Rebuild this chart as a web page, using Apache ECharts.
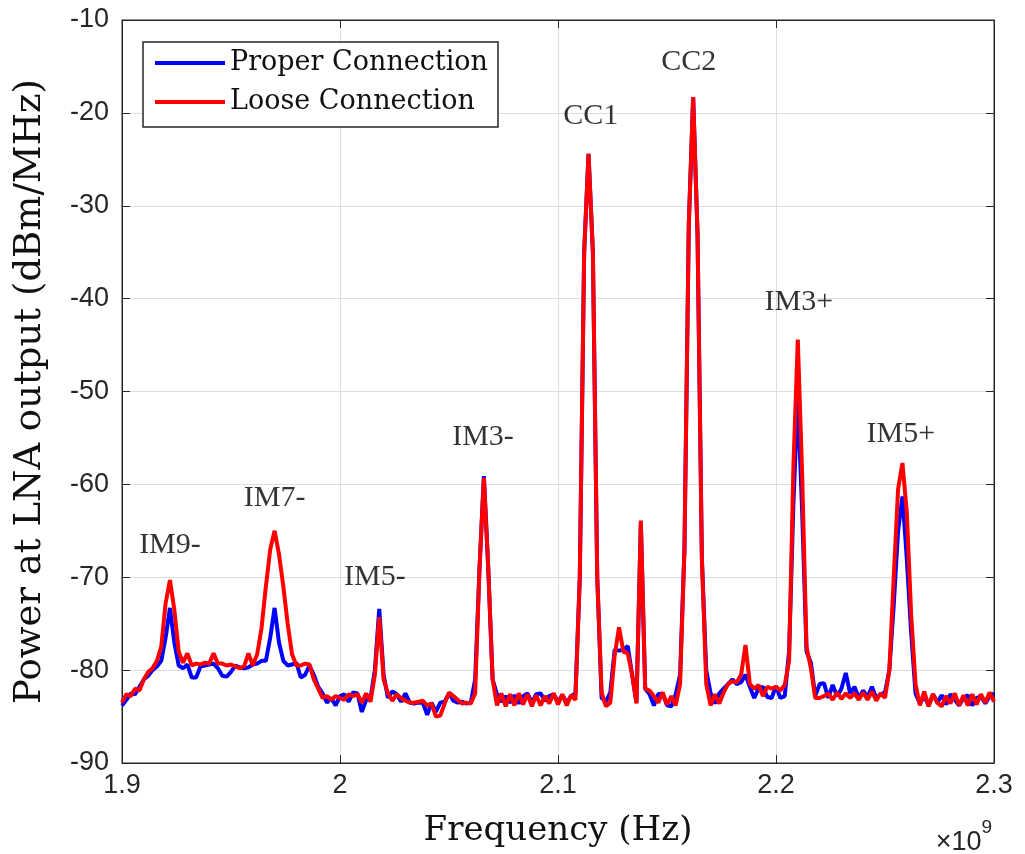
<!DOCTYPE html>
<html>
<head>
<meta charset="utf-8">
<script src="https://cdn.jsdelivr.net/npm/echarts@6/dist/echarts.min.js"></script>
<style>html,body{margin:0;padding:0;background:#fff}#c{width:1025px;height:854px}</style>
</head>
<body>
<div id="c"></div>
<script>
// Frequency sampling grid (GHz, ×10^9 Hz)
const freqStart = 1.9;
const freqStep = 0.002;
const xTicks = [1.9, 2.0, 2.1, 2.2, 2.3];
const yTicks = [-90, -80, -70, -60, -50, -40, -30, -20, -10];

const proper = [
-83.8,-83.2,-82.5,-82.6,-81.8,-81.0,-80.6,-80.0,-79.6,-79.0,
-76.5,-73.3,-77.0,-79.5,-79.8,-79.4,-80.8,-80.8,-79.6,-79.5,
-79.4,-79.3,-79.8,-80.6,-80.7,-80.2,-79.5,-79.7,-79.8,-79.7,
-79.4,-79.3,-79.0,-79.0,-76.5,-73.3,-77.0,-79.0,-79.5,-79.4,
-79.2,-80.8,-80.5,-79.5,-80.5,-81.8,-82.5,-83.5,-83.0,-83.8,
-82.8,-82.6,-83.4,-82.4,-82.5,-84.5,-83.2,-83.0,-80.0,-73.4,
-80.5,-83.0,-82.3,-82.6,-83.4,-82.5,-83.5,-83.6,-83.5,-83.5,
-84.8,-83.5,-84.5,-83.5,-83.4,-82.5,-83.3,-83.5,-83.4,-83.6,
-83.5,-81.0,-69.0,-59.1,-69.0,-81.0,-82.6,-83.4,-82.8,-83.5,
-82.7,-83.6,-82.8,-82.5,-83.5,-82.6,-82.5,-83.3,-82.8,-82.6,
-83.4,-82.7,-83.5,-82.8,-82.5,-70.0,-35.0,-24.4,-35.0,-70.0,
-83.0,-83.4,-82.4,-77.8,-77.9,-77.8,-77.4,-80.5,-83.5,-64.2,
-82.0,-82.6,-83.8,-82.6,-82.5,-83.8,-83.9,-82.6,-80.5,-67.0,
-32.0,-18.3,-33.0,-68.0,-80.0,-82.5,-83.6,-82.5,-82.0,-81.5,
-81.0,-81.5,-81.3,-80.5,-81.8,-83.0,-82.0,-81.8,-82.9,-83.0,
-81.7,-83.0,-82.8,-78.0,-62.0,-50.5,-63.0,-78.0,-79.2,-82.8,
-81.5,-81.4,-83.0,-81.6,-82.8,-82.0,-80.3,-82.5,-81.8,-83.0,
-82.2,-82.9,-81.8,-83.0,-82.6,-82.4,-80.0,-73.0,-65.0,-61.3,
-68.0,-76.0,-82.5,-83.6,-82.8,-83.8,-82.6,-83.5,-82.7,-83.7,
-82.6,-83.2,-83.8,-83.0,-82.7,-83.8,-83.0,-82.8,-83.6,-82.8,
-82.5
];

const loose = [
-83.5,-82.6,-82.8,-82.0,-82.2,-81.0,-80.2,-79.8,-79.0,-77.5,
-72.8,-70.3,-73.5,-78.0,-79.2,-78.2,-79.5,-79.3,-79.4,-79.2,
-79.3,-78.2,-79.3,-79.3,-79.5,-79.4,-79.6,-79.8,-79.6,-78.2,
-79.5,-78.3,-75.5,-71.0,-67.0,-65.0,-67.5,-71.0,-75.0,-78.3,
-79.5,-79.5,-79.3,-79.4,-81.0,-82.0,-83.0,-82.8,-83.2,-82.8,
-83.0,-83.2,-82.6,-82.8,-82.6,-83.5,-82.5,-83.4,-80.5,-74.3,
-81.0,-82.5,-83.3,-82.6,-83.0,-83.3,-83.5,-83.5,-83.4,-83.3,
-83.8,-83.6,-85.0,-84.9,-83.6,-82.4,-82.8,-83.2,-83.6,-83.5,
-83.6,-82.5,-69.0,-59.3,-69.0,-81.0,-83.8,-82.5,-83.9,-82.6,
-83.8,-82.5,-83.7,-82.6,-83.9,-82.7,-83.8,-82.8,-83.6,-82.5,
-83.7,-82.6,-83.8,-82.7,-83.2,-70.0,-35.0,-24.4,-35.0,-70.0,
-82.4,-83.9,-83.5,-78.4,-75.4,-78.0,-78.2,-80.5,-83.6,-63.9,
-82.0,-82.2,-82.8,-83.5,-82.4,-83.7,-82.8,-83.8,-81.5,-67.0,
-32.0,-18.3,-33.0,-68.0,-81.5,-83.8,-82.6,-83.6,-82.4,-81.5,
-81.2,-81.3,-80.5,-77.3,-81.5,-82.0,-81.6,-82.8,-81.8,-82.0,
-81.8,-82.2,-81.6,-79.0,-58.0,-44.4,-59.0,-77.5,-79.8,-83.0,
-83.0,-82.8,-82.5,-83.2,-82.4,-83.1,-82.5,-83.0,-82.5,-83.2,
-82.4,-83.2,-82.3,-83.3,-82.5,-83.0,-80.0,-70.0,-60.5,-57.7,
-63.0,-74.0,-81.5,-83.8,-82.3,-83.9,-82.6,-83.5,-83.9,-82.8,
-83.6,-82.5,-83.8,-82.7,-83.8,-82.6,-83.7,-82.6,-83.5,-82.4,
-83.4
];

const annoText = ['IM9-', 'IM7-', 'IM5-', 'IM3-', 'CC1', 'CC2', 'IM3+', 'IM5+'];
const annoX = [1.922, 1.970, 2.016, 2.0656, 2.115, 2.160, 2.2105, 2.2573];
const annoY = [-66.5, -61.5, -70.0, -54.9, -20.4, -14.5, -40.4, -54.6];

const pts = a => a.map((v, i) => [+(freqStart + freqStep * i).toFixed(4), v]);
const axisColor = '#262626';
const serif = '"Liberation Serif", "Times New Roman", serif';
const wideSerif = '"DejaVu Serif", "Liberation Serif", serif';
const sans = '"Liberation Sans", Arial, sans-serif';

const common = {min: -90, max: -10, interval: 10};
const chart = echarts.init(document.getElementById('c'), null, {renderer: 'canvas'});
chart.setOption({
  animation: false,
  backgroundColor: '#fff',
  grid: {left: 122, right: 31, top: 20, bottom: 91, show: true, borderColor: axisColor, borderWidth: 1,
    backgroundColor: '#fff', containLabel: false, outerBoundsMode: 'none'},
  legend: {
    left: 143, top: 42, orient: 'vertical',
    data: ['Proper Connection', 'Loose Connection'],
    itemWidth: 70, itemHeight: 4, icon: 'rect', itemGap: 9,
    padding: [6, 10, 10, 12],
    backgroundColor: '#fff', borderColor: axisColor, borderWidth: 1.5,
    textStyle: {fontFamily: wideSerif, fontSize: 27, lineHeight: 30, color: '#111'}
  },
  xAxis: [{
    type: 'value', min: 1.9, max: 2.3, interval: 0.1,
    name: 'Frequency (Hz)', nameLocation: 'middle', nameGap: 51,
    nameTextStyle: {fontFamily: wideSerif, fontSize: 34, color: '#111'},
    axisLine: {show: true, lineStyle: {color: axisColor, width: 1}},
    axisTick: {show: true, inside: true, length: 8, lineStyle: {color: axisColor}},
    axisLabel: {fontFamily: sans, fontSize: 27, color: axisColor, margin: 9,
      formatter: v => String(+v.toFixed(1))},
    splitLine: {show: true, lineStyle: {color: '#dedede', width: 1}}
  }, {
    type: 'value', min: 1.9, max: 2.3, interval: 0.1, position: 'top',
    axisLine: {show: true, lineStyle: {color: axisColor}},
    axisTick: {show: true, inside: true, length: 8, lineStyle: {color: axisColor}},
    axisLabel: {show: false}, splitLine: {show: false}
  }],
  yAxis: [Object.assign({
    type: 'value',
    name: 'Power at LNA output (dBm/MHz)', nameLocation: 'middle', nameGap: 73,
    nameTextStyle: {fontFamily: wideSerif, fontSize: 37, color: '#111'},
    axisLine: {show: true, lineStyle: {color: axisColor, width: 1}},
    axisTick: {show: true, inside: true, length: 8, lineStyle: {color: axisColor}},
    axisLabel: {fontFamily: sans, fontSize: 27, color: axisColor, margin: 13},
    splitLine: {show: true, lineStyle: {color: '#dedede', width: 1}}
  }, common), Object.assign({
    type: 'value', position: 'right',
    axisLine: {show: true, lineStyle: {color: axisColor}},
    axisTick: {show: true, inside: true, length: 8, lineStyle: {color: axisColor}},
    axisLabel: {show: false}, splitLine: {show: false}
  }, common)],
  series: [{
    name: 'Proper Connection', type: 'line', data: pts(proper),
    showSymbol: false, symbol: 'none', lineStyle: {color: '#0000ff', width: 4}, itemStyle: {color: '#0000ff'}, z: 2
  }, {
    name: 'Loose Connection', type: 'line', data: pts(loose),
    showSymbol: false, symbol: 'none', lineStyle: {color: '#ff0000', width: 4}, itemStyle: {color: '#ff0000'}, z: 3
  }, {
    name: 'annotations', type: 'scatter', symbolSize: 0, silent: true, z: 4,
    data: annoText.map((t, i) => ({value: [annoX[i], annoY[i]], name: t})),
    label: {show: true, position: 'inside', formatter: p => p.name,
      fontFamily: serif, fontSize: 30, color: '#000'}
  }],
  graphic: [{
    type: 'text', right: 33, top: 818,
    style: {
      text: '{a|×10}{b|9}',
      rich: {
        a: {fontFamily: sans, fontSize: 27, fill: axisColor, verticalAlign: 'bottom', padding: [11, 0, 0, 0]},
        b: {fontFamily: sans, fontSize: 19, fill: axisColor, verticalAlign: 'top'}
      }
    }
  }]
});
</script>
</body>
</html>
